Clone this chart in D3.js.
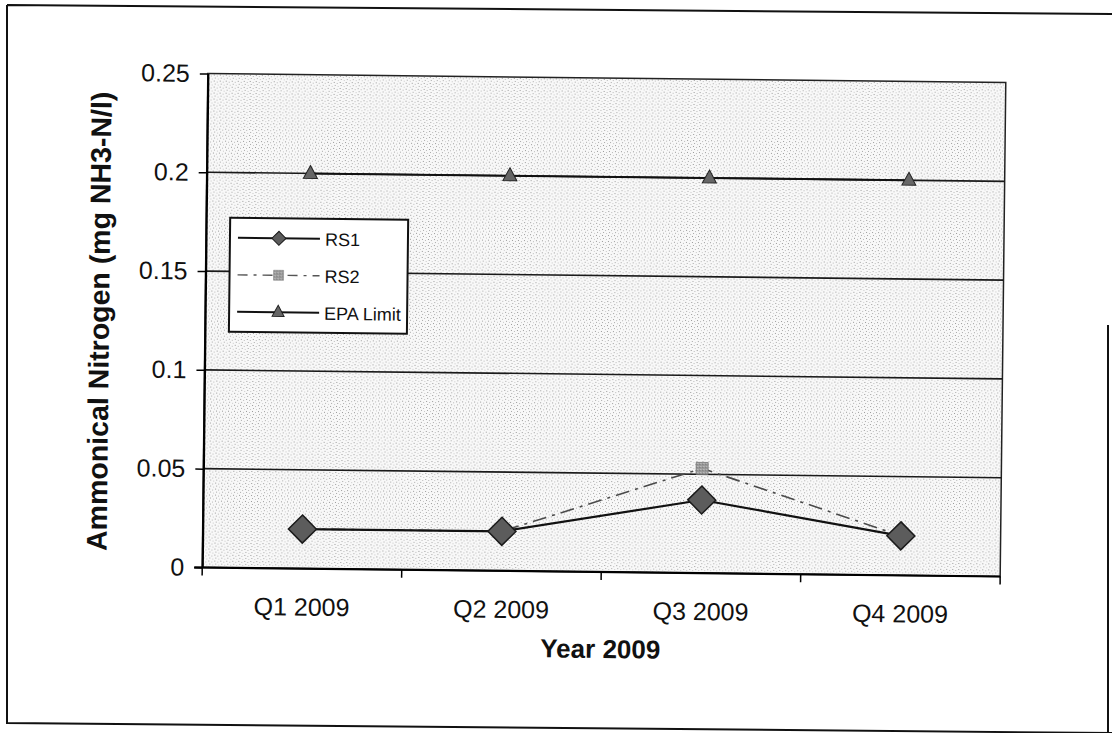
<!DOCTYPE html>
<html>
<head>
<meta charset="utf-8">
<script src="https://cdn.jsdelivr.net/npm/d3@7"></script>
<style>
  html, body { margin: 0; padding: 0; background: #fff; }
  svg { display: block; font-family: Arial, "Liberation Sans", sans-serif; }
</style>
</head>
<body>
<script>
// Ammonical nitrogen results per quarter, 2009
const quarters = ["Q1 2009", "Q2 2009", "Q3 2009", "Q4 2009"];
const rs1 = [0.02, 0.02, 0.037, 0.02];
const rs2 = [0.02, 0.02, 0.053, 0.02];
const epaLimit = [0.2, 0.2, 0.2, 0.2];
const yTicks = [0, 0.05, 0.1, 0.15, 0.2, 0.25];
const seriesNames = ["RS1", "RS2", "EPA Limit"];

const W = 1112, H = 733;
const plot = { left: 205, right: 1003, top: 78, bottom: 572 };

const svg = d3.select("body").append("svg")
  .attr("width", W).attr("height", H);

// dotted fill for the plot area
const defs = svg.append("defs");
const pat = defs.append("pattern")
  .attr("id", "stipple").attr("patternUnits", "userSpaceOnUse")
  .attr("width", 6).attr("height", 6);
pat.append("rect").attr("width", 6).attr("height", 6).attr("fill", "#f8f8f8");
[[1, 1, "#9a9a9a"], [4, 2, "#b8b8b8"], [2, 4, "#a8a8a8"], [5, 5, "#c8c8c8"]].forEach(([px, py, c]) =>
  pat.append("rect").attr("x", px).attr("y", py).attr("width", 1).attr("height", 1).attr("fill", c));

const sqPat = defs.append("pattern")
  .attr("id", "graySq").attr("patternUnits", "userSpaceOnUse")
  .attr("width", 3).attr("height", 3);
sqPat.append("rect").attr("width", 3).attr("height", 3).attr("fill", "#9a9a9a");
sqPat.append("rect").attr("width", 1).attr("height", 1).attr("fill", "#cfcfcf");
sqPat.append("rect").attr("x", 2).attr("y", 1).attr("width", 1).attr("height", 1).attr("fill", "#6f6f6f");

// outer chart frame
svg.append("path")
  .attr("d", "M7,5 L1112,14 M7,5 L7,723 L1112,733 M1108,325 L1108,733")
  .attr("fill", "none").attr("stroke", "#111").attr("stroke-width", 2);

const g = svg.append("g").attr("transform", "rotate(0.65,604,325)");

const x = d3.scaleBand().domain(quarters).range([plot.left, plot.right]).padding(0);
const cx = q => x(q) + x.bandwidth() / 2;
const y = d3.scaleLinear().domain([0, 0.25]).range([plot.bottom, plot.top]);

g.append("rect")
  .attr("x", plot.left).attr("y", plot.top)
  .attr("width", plot.right - plot.left).attr("height", plot.bottom - plot.top)
  .attr("fill", "url(#stipple)").attr("stroke", "#222").attr("stroke-width", 1.5);

// horizontal gridlines
g.append("g").selectAll("line")
  .data(yTicks.filter(v => v > 0 && v < 0.25))
  .join("line")
  .attr("x1", plot.left).attr("x2", plot.right)
  .attr("y1", d => y(d)).attr("y2", d => y(d))
  .attr("stroke", "#1a1a1a").attr("stroke-width", 1.6);

// y axis
const yAxis = g.append("g").attr("transform", `translate(${plot.left},0)`)
  .call(d3.axisLeft(y).tickValues(yTicks).tickSize(8).tickSizeOuter(0).tickPadding(10)
    .tickFormat(d => String(d)));
yAxis.select(".domain").attr("stroke", "#000").attr("stroke-width", 2.2);
yAxis.selectAll(".tick line").attr("stroke", "#000").attr("stroke-width", 1.5);
yAxis.selectAll(".tick text").attr("font-size", 25).attr("fill", "#111")
  .attr("font-family", "Arial, 'Liberation Sans', sans-serif");

// x axis: line, ticks on category boundaries, labels centred in each band
const bounds = quarters.map(q => x(q)).concat([plot.right]);
const xAxis = g.append("g");
xAxis.append("line")
  .attr("x1", plot.left - 8).attr("x2", plot.right)
  .attr("y1", plot.bottom).attr("y2", plot.bottom)
  .attr("stroke", "#000").attr("stroke-width", 2.2);
xAxis.selectAll("line.tk").data(bounds).join("line").attr("class", "tk")
  .attr("x1", d => d).attr("x2", d => d)
  .attr("y1", plot.bottom).attr("y2", plot.bottom + 8)
  .attr("stroke", "#000").attr("stroke-width", 1.5);
xAxis.selectAll("text").data(quarters).join("text")
  .attr("x", d => cx(d)).attr("y", plot.bottom + 47)
  .attr("text-anchor", "middle").attr("font-size", 25).attr("fill", "#111")
  .text(d => d);

// axis titles
g.append("text")
  .attr("x", (plot.left + plot.right) / 2).attr("y", plot.bottom + 86)
  .attr("text-anchor", "middle").attr("font-size", 26).attr("font-weight", "bold")
  .attr("fill", "#111").text("Year 2009");
g.append("text")
  .attr("transform", `translate(109,${(plot.top + plot.bottom) / 2 + 2}) rotate(-90)`)
  .attr("text-anchor", "middle").attr("font-size", 28.5).attr("font-weight", "bold")
  .attr("fill", "#111").text("Ammonical Nitrogen (mg NH3-N/l)");

// series
const line = d3.line().x((d, i) => cx(quarters[i])).y(d => y(d));
const diamond = s => `M0,${-s}L${s},0L0,${s}L${-s},0Z`;
const triangle = s => `M0,${-s}L${s},${s * 0.85}L${-s},${s * 0.85}Z`;

// RS2 (dash-dot)
g.append("path").datum(rs2).attr("d", line)
  .attr("fill", "none").attr("stroke", "#4a4a4a").attr("stroke-width", 1.6)
  .attr("stroke-dasharray", "14,6,3,6");
g.append("g").selectAll("rect").data(rs2).join("rect")
  .attr("x", (d, i) => cx(quarters[i]) - 6).attr("y", d => y(d) - 6)
  .attr("width", 12).attr("height", 12)
  .attr("fill", "url(#graySq)").attr("stroke", "#777").attr("stroke-width", 0.8);

// RS1 (solid with diamonds)
g.append("path").datum(rs1).attr("d", line)
  .attr("fill", "none").attr("stroke", "#111").attr("stroke-width", 2.2);
g.append("g").selectAll("path").data(rs1).join("path")
  .attr("transform", (d, i) => `translate(${cx(quarters[i])},${y(d)})`)
  .attr("d", diamond(14))
  .attr("fill", "#5c5c5c").attr("stroke", "#1a1a1a").attr("stroke-width", 1.5);

// EPA limit (solid with triangles)
g.append("path").datum(epaLimit).attr("d", line)
  .attr("fill", "none").attr("stroke", "#111").attr("stroke-width", 2);
g.append("g").selectAll("path").data(epaLimit).join("path")
  .attr("transform", (d, i) => `translate(${cx(quarters[i]) + 4},${y(d) - 1})`)
  .attr("d", triangle(7))
  .attr("fill", "#666").attr("stroke", "#222").attr("stroke-width", 1);

// legend
const lg = g.append("g").attr("transform", "translate(229,222)");
lg.append("rect").attr("width", 178).attr("height", 114)
  .attr("fill", "#fff").attr("stroke", "#111").attr("stroke-width", 2);
const rowY = [20, 57, 94];
const lineStyles = [
  { stroke: "#111", width: 2, dash: null },
  { stroke: "#555", width: 1.4, dash: "10,6,3,6" },
  { stroke: "#111", width: 2, dash: null }
];
seriesNames.forEach((name, i) => {
  const row = lg.append("g").attr("transform", `translate(0,${rowY[i]})`);
  row.append("line").attr("x1", 8).attr("x2", 90)
    .attr("stroke", lineStyles[i].stroke).attr("stroke-width", lineStyles[i].width)
    .attr("stroke-dasharray", lineStyles[i].dash);
  if (i === 0) {
    row.append("path").attr("transform", "translate(49,0)").attr("d", diamond(7))
      .attr("fill", "#5c5c5c").attr("stroke", "#1a1a1a").attr("stroke-width", 1);
  } else if (i === 1) {
    row.append("rect").attr("x", 44).attr("y", -5).attr("width", 10).attr("height", 10)
      .attr("fill", "url(#graySq)").attr("stroke", "#888").attr("stroke-width", 0.6);
  } else {
    row.append("path").attr("transform", "translate(49,-1)").attr("d", triangle(6))
      .attr("fill", "#666").attr("stroke", "#222").attr("stroke-width", 1);
  }
  row.append("text").attr("x", 95).attr("y", 7)
    .attr("font-size", 18).attr("fill", "#111").text(name);
});
</script>
</body>
</html>
